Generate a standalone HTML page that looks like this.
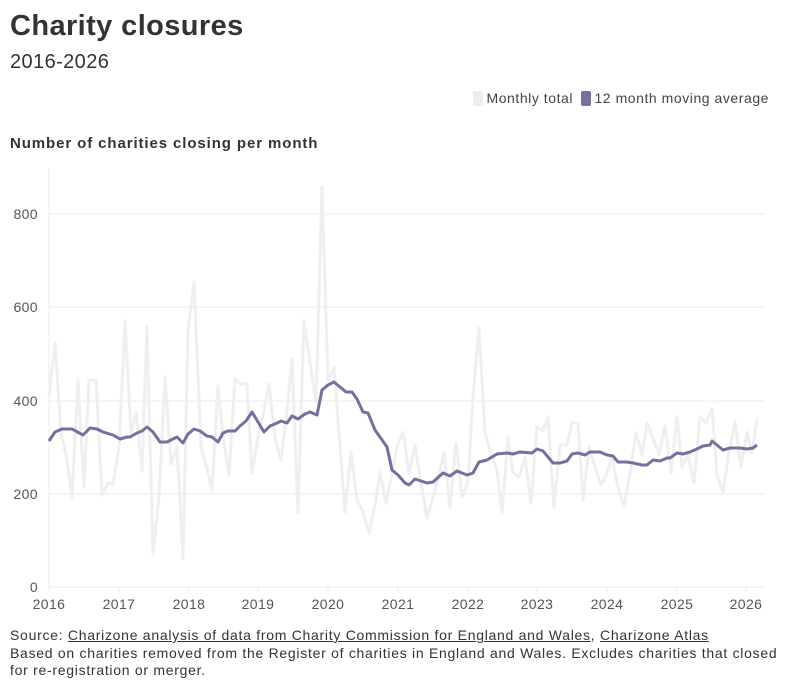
<!DOCTYPE html>
<html><head><meta charset="utf-8"><style>
body{margin:0;width:794px;height:691px;background:#fff;font-family:"Liberation Sans",sans-serif;color:#333;overflow:hidden;position:relative}
.t{position:absolute;white-space:nowrap}
</style></head><body>
<div class="t" style="left:10px;top:10px;font-size:29px;font-weight:bold;color:#333;letter-spacing:0.4px">Charity closures</div>
<div class="t" style="left:10px;top:51px;font-size:20px;color:#333;letter-spacing:0.4px">2016-2026</div>
<div class="t" style="right:25px;top:90px;font-size:14px;color:#444;letter-spacing:0.55px"><span style="display:inline-block;width:10px;height:15px;background:#eee;border-radius:2px;vertical-align:-3px;margin-right:4px"></span>Monthly total <span style="display:inline-block;width:10px;height:15px;background:#7470a0;border-radius:2px;vertical-align:-3px;margin:0 3px 0 4px"></span>12 month moving average</div>
<div class="t" style="left:10px;top:135px;font-size:15px;font-weight:bold;color:#333;letter-spacing:0.9px">Number of charities closing per month</div>
<svg style="position:absolute;left:0;top:0" width="794" height="691">
<g stroke="#ebebeb" stroke-width="1">
<line x1="49" y1="214" x2="764" y2="214"/><line x1="49" y1="307" x2="764" y2="307"/><line x1="49" y1="401" x2="764" y2="401"/><line x1="49" y1="494" x2="764" y2="494"/><line x1="49" y1="587" x2="764" y2="587"/>
<line x1="49" y1="168" x2="49" y2="592"/>
<line x1="119" y1="587" x2="119" y2="592"/><line x1="189" y1="587" x2="189" y2="592"/><line x1="258" y1="587" x2="258" y2="592"/><line x1="328" y1="587" x2="328" y2="592"/><line x1="398" y1="587" x2="398" y2="592"/><line x1="468" y1="587" x2="468" y2="592"/><line x1="537" y1="587" x2="537" y2="592"/><line x1="607" y1="587" x2="607" y2="592"/><line x1="677" y1="587" x2="677" y2="592"/><line x1="746" y1="587" x2="746" y2="592"/>
</g>
<g font-size="14" fill="#555" text-anchor="end" letter-spacing="0.4">
<text x="38" y="219">800</text><text x="38" y="312">600</text><text x="38" y="406">400</text><text x="38" y="499">200</text><text x="38" y="592">0</text>
</g>
<g font-size="14" fill="#555" text-anchor="middle" letter-spacing="0.4">
<text x="49" y="609">2016</text><text x="119" y="609">2017</text><text x="189" y="609">2018</text><text x="258" y="609">2019</text><text x="328" y="609">2020</text><text x="398" y="609">2021</text><text x="468" y="609">2022</text><text x="537" y="609">2023</text><text x="607" y="609">2024</text><text x="677" y="609">2025</text><text x="746" y="609">2026</text>
</g>
<polyline fill="none" stroke="#efefef" stroke-width="3" stroke-linejoin="round" points="49,397 55,343 61,433 67,460 72,497 78,380 84,487 89,380 96,380 102,495 108,483 113,484 119,447 125,321 131,433 136,412 142,471 147,327 153,554 159,497 165,377 171,464 177,447 183,558 188,330 194,282 201,447 207,468 212,490 218,386 223,437 229,475 235,379 240,384 247,384 252,473 258,437 264,410 269,384 275,438 281,460 287,410 292,360 298,512 304,320 310,363 316,402 322,187 328,380 334,367 339,433 345,512 351,452 357,500 363,512 369,533 375,505 380,472 386,503 392,473 397,447 403,432 409,473 415,445 420,477 427,518 433,498 438,478 444,453 450,507 456,443 462,497 468,482 473,397 479,328 485,433 491,453 497,470 502,512 508,438 513,473 519,477 525,457 531,503 537,427 543,431 548,417 554,507 560,445 567,445 572,423 578,423 583,500 589,447 595,467 601,485 607,473 612,457 618,488 624,506 630,473 636,433 642,455 647,423 653,438 659,455 665,426 671,473 677,417 682,467 688,455 694,483 700,417 706,423 712,408 717,475 723,493 729,452 735,422 741,467 747,432 752,453 757,419"/>
<polyline fill="none" stroke="#7470a0" stroke-width="3" stroke-linejoin="round" points="49,441 55,432 62,429 72,429 83,435 90,428 97,429 103,432 113,435 120,439 127,437 130,437 137,433 142,431 147,427 153,432 160,442 167,442 177,437 183,443 188,434 194,429 200,431 207,436 212,437 218,442 223,433 228,431 235,431 240,426 246,421 252,412 258,422 264,432 270,426 277,423 281,421 287,423 292,416 298,419 305,414 310,412 317,415 322,390 328,385 334,382 340,387 346,392 352,392 357,399 363,412 368,413 375,430 387,447 392,470 398,475 405,483 409,485 415,479 427,483 433,482 443,473 450,476 457,471 467,475 473,473 479,462 487,460 497,454 507,453 513,454 520,452 532,453 537,449 543,451 553,463 560,463 567,461 572,454 578,453 585,455 590,452 600,452 607,455 613,456 618,462 627,462 633,463 642,465 647,465 653,460 660,461 667,458 670,458 677,453 683,454 690,452 697,449 703,446 710,445 712,441 723,450 730,448 740,448 747,449 753,448 757,445"/>
</svg>
<div class="t" style="left:10px;top:627px;font-size:14px;color:#333;line-height:17.5px;letter-spacing:0.72px">Source: <u>Charizone analysis of data from Charity Commission for England and Wales</u>, <u>Charizone Atlas</u><br>Based on charities removed from the Register of charities in England and Wales. Excludes charities that closed<br>for re-registration or merger.</div>
</body></html>
